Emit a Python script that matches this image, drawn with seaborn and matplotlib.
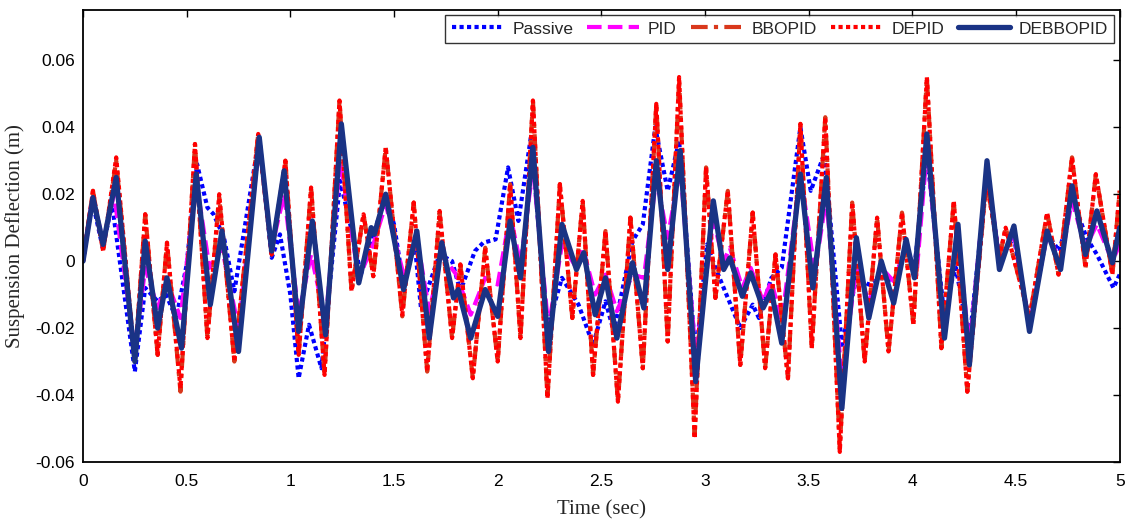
import matplotlib
matplotlib.use("Agg")
import matplotlib.pyplot as plt
import seaborn as sns
import pandas as pd

# ---------------- data ----------------
t_passive = [0, 0.045, 0.095, 0.14, 0.25, 0.30, 0.36, 0.40, 0.45, 0.50,
             0.55, 0.60, 0.63, 0.68, 0.73, 0.85, 0.91, 0.95, 1.0, 1.04,
             1.09, 1.15, 1.24, 1.30, 1.34, 1.40, 1.46, 1.50, 1.545, 1.60,
             1.63, 1.72, 1.78, 1.82, 1.89, 1.93, 1.99, 2.05, 2.10, 2.16,
             2.24, 2.31, 2.39, 2.46, 2.52, 2.56, 2.65, 2.70, 2.76, 2.82,
             2.875, 2.955, 3.01, 3.05, 3.17, 3.23, 3.26, 3.32, 3.37, 3.46,
             3.51, 3.575, 3.66, 3.73, 3.79, 3.85, 3.91, 3.97, 4.01, 4.07,
             4.15, 4.21, 4.275, 4.36, 4.42, 4.49, 4.565, 4.65, 4.71, 4.77,
             4.84, 4.89, 4.97, 5.0]
y_passive = [0, 0.018, 0.004, 0.017, -0.033, -0.008, -0.012, -0.010, -0.017, -0.001,
             0.029, 0.016, 0.014, 0.007, -0.009, 0.037, 0.001, 0.008, -0.010, -0.035,
             -0.019, -0.032, 0.024, 0.008, -0.004, 0.008, 0.019, 0.011, -0.007, 0.005,
             -0.014, 0.002, 0.0, -0.009, 0.003, 0.0055, 0.0065, 0.028, 0.012, 0.037,
             -0.020, -0.005, -0.013, -0.025, -0.012, -0.021, 0.006, 0.011, 0.040, 0.021,
             0.036, -0.029, 0.005, -0.002, -0.020, -0.013, -0.017, -0.005, -0.002, 0.040,
             0.021, 0.032, -0.025, -0.005, -0.007, -0.005, -0.006, 0.004, -0.002, 0.032,
             -0.014, -0.002, -0.024, 0.026, 0.001, 0.007, -0.019, 0.008, 0.003, 0.019,
             0.007, 0.002, -0.008, -0.004]

t_pid = [0, 0.045, 0.097, 0.15, 0.25, 0.30, 0.36, 0.405, 0.47, 0.546,
         0.61, 0.67, 0.75, 0.85, 0.91, 0.97, 1.04, 1.10, 1.17, 1.24,
         1.33, 1.40, 1.46, 1.55, 1.61, 1.67, 1.73, 1.80, 1.87, 1.94,
         2.0, 2.06, 2.11, 2.17, 2.245, 2.31, 2.38, 2.41, 2.47, 2.52,
         2.575, 2.65, 2.705, 2.765, 2.82, 2.88, 2.955, 3.04, 3.09, 3.12,
         3.18, 3.22, 3.28, 3.32, 3.37, 3.46, 3.53, 3.585, 3.66, 3.73,
         3.79, 3.85, 3.91, 3.97, 4.02, 4.07, 4.155, 4.22, 4.275, 4.36,
         4.42, 4.49, 4.565, 4.65, 4.715, 4.77, 4.835, 4.89, 4.965, 5.0]
y_pid = [0, 0.019, 0.006, 0.020, -0.027, -0.002, -0.014, -0.006, -0.017, 0.024,
         -0.002, 0.004, -0.020, 0.035, 0.004, 0.020, -0.016, 0.002, -0.018, 0.030,
         -0.005, 0.005, 0.017, -0.005, 0.007, -0.015, 0.002, -0.004, -0.016, -0.005,
         -0.007, 0.014, -0.001, 0.028, -0.020, 0.005, -0.002, 0.004, -0.010, -0.004,
         -0.015, -0.004, -0.005, 0.025, 0.007, 0.028, -0.028, 0.012, 0.0, 0.004,
         -0.008, -0.002, -0.012, -0.006, -0.018, 0.026, -0.003, 0.019, -0.035, -0.002,
         -0.012, -0.002, -0.006, 0.004, -0.004, 0.033, -0.020, 0.008, -0.026, 0.028,
         0.0, 0.008, -0.019, 0.008, 0.0, 0.018, 0.004, 0.011, 0.0, 0.005]

t_bbopid = [0, 0.048, 0.097, 0.16, 0.25, 0.30, 0.36, 0.405, 0.47, 0.54,
            0.60, 0.657, 0.73, 0.845, 0.91, 0.976, 1.04, 1.10, 1.165, 1.237,
            1.295, 1.353, 1.40, 1.46, 1.54, 1.595, 1.66, 1.72, 1.78, 1.82,
            1.88, 1.94, 2.0, 2.06, 2.11, 2.17, 2.24, 2.30, 2.36, 2.41,
            2.46, 2.52, 2.58, 2.64, 2.70, 2.765, 2.82, 2.875, 2.95, 3.005,
            3.05, 3.11, 3.17, 3.23, 3.29, 3.34, 3.40, 3.46, 3.515, 3.58,
            3.65, 3.71, 3.77, 3.83, 3.885, 3.95, 4.005, 4.07, 4.14, 4.20,
            4.265, 4.357, 4.42, 4.45, 4.565, 4.65, 4.705, 4.77, 4.835, 4.885,
            4.965, 5.0]
y_bbopid = [0, 0.021, 0.003, 0.030, -0.030, 0.014, -0.028, 0.0055, -0.039, 0.035,
            -0.023, 0.019, -0.030, 0.038, 0.002, 0.030, -0.028, 0.022, -0.034, 0.048,
            -0.009, 0.014, -0.0045, 0.034, -0.0165, 0.0175, -0.033, 0.0145, -0.023, -0.001,
            -0.035, 0.004, -0.030, 0.023, -0.023, 0.048, -0.041, 0.023, -0.017, 0.018,
            -0.034, 0.009, -0.042, 0.013, -0.032, 0.047, -0.024, 0.054, -0.052, 0.028,
            -0.011, 0.021, -0.031, 0.0145, -0.032, 0.002, -0.035, 0.041, -0.026, 0.043,
            -0.056, 0.0175, -0.030, 0.013, -0.027, 0.0145, -0.019, 0.055, -0.026, 0.018,
            -0.039, 0.024, 0.001, 0.010, -0.017, 0.0145, -0.004, 0.031, -0.002, 0.026,
            -0.004, 0.021]

t_depid = [0, 0.048, 0.097, 0.16, 0.25, 0.30, 0.36, 0.405, 0.47, 0.54,
           0.60, 0.657, 0.73, 0.845, 0.91, 0.976, 1.04, 1.10, 1.165, 1.237,
           1.295, 1.353, 1.40, 1.46, 1.54, 1.595, 1.66, 1.72, 1.78, 1.82,
           1.88, 1.94, 2.0, 2.06, 2.11, 2.17, 2.24, 2.30, 2.36, 2.41,
           2.46, 2.52, 2.58, 2.64, 2.70, 2.765, 2.82, 2.875, 2.95, 3.005,
           3.05, 3.11, 3.17, 3.23, 3.29, 3.34, 3.40, 3.46, 3.515, 3.58,
           3.65, 3.71, 3.77, 3.83, 3.885, 3.95, 4.005, 4.07, 4.14, 4.20,
           4.265, 4.357, 4.42, 4.45, 4.565, 4.65, 4.705, 4.77, 4.835, 4.885,
           4.965, 5.0]
y_depid = [0, 0.021, 0.003, 0.031, -0.030, 0.014, -0.028, 0.0055, -0.038, 0.035,
           -0.023, 0.020, -0.030, 0.038, 0.002, 0.030, -0.028, 0.022, -0.034, 0.048,
           -0.009, 0.014, -0.0045, 0.034, -0.016, 0.0175, -0.033, 0.015, -0.023, -0.001,
           -0.035, 0.004, -0.030, 0.023, -0.023, 0.048, -0.041, 0.023, -0.017, 0.018,
           -0.034, 0.009, -0.042, 0.013, -0.032, 0.047, -0.024, 0.055, -0.053, 0.028,
           -0.011, 0.021, -0.031, 0.0145, -0.032, 0.002, -0.035, 0.041, -0.026, 0.043,
           -0.057, 0.0175, -0.030, 0.013, -0.027, 0.0145, -0.019, 0.055, -0.026, 0.018,
           -0.039, 0.024, 0.001, 0.010, -0.017, 0.0145, -0.004, 0.031, -0.002, 0.026,
           -0.004, 0.021]

t_debbopid = [0, 0.048, 0.097, 0.16, 0.25, 0.30, 0.36, 0.405, 0.475, 0.546,
              0.614, 0.67, 0.75, 0.85, 0.91, 0.97, 1.04, 1.106, 1.17, 1.246,
              1.33, 1.39, 1.405, 1.46, 1.546, 1.61, 1.67, 1.73, 1.787, 1.81,
              1.87, 1.94, 2.0, 2.06, 2.11, 2.17, 2.245, 2.31, 2.38, 2.415,
              2.47, 2.52, 2.575, 2.65, 2.705, 2.765, 2.82, 2.88, 2.955, 3.04,
              3.09, 3.12, 3.18, 3.22, 3.28, 3.32, 3.37, 3.46, 3.52, 3.585,
              3.66, 3.73, 3.79, 3.85, 3.91, 3.97, 4.01, 4.07, 4.155, 4.22,
              4.275, 4.36, 4.42, 4.49, 4.565, 4.65, 4.715, 4.77, 4.835, 4.89,
              4.965, 5.0]
y_debbopid = [0, 0.019, 0.005, 0.025, -0.030, 0.006, -0.020, -0.005, -0.026, 0.026,
              -0.013, 0.009, -0.027, 0.037, 0.003, 0.027, -0.021, 0.012, -0.022, 0.041,
              -0.0065, 0.010, 0.008, 0.020, -0.0085, 0.009, -0.023, 0.0055, -0.011, -0.0085,
              -0.023, -0.0085, -0.0165, 0.012, -0.005, 0.034, -0.027, 0.011, -0.0025, 0.0025,
              -0.016, -0.005, -0.023, -0.0005, -0.014, 0.030, -0.0025, 0.033, -0.036, 0.018,
              -0.0025, 0.001, -0.0105, -0.0035, -0.014, -0.009, -0.0245, 0.026, -0.008, 0.025,
              -0.044, 0.007, -0.017, 0.0, -0.0125, 0.0065, -0.005, 0.038, -0.023, 0.011,
              -0.031, 0.030, -0.0025, 0.0105, -0.021, 0.009, -0.0025, 0.0225, 0.002, 0.015,
              -0.0005, 0.010]

series_names = ["Passive", "PID", "BBOPID", "DEPID", "DEBBOPID"]
x_ticks = [0, 0.5, 1, 1.5, 2, 2.5, 3, 3.5, 4, 4.5, 5]
x_tick_labels = ["0", "0.5", "1", "1.5", "2", "2.5", "3", "3.5", "4", "4.5", "5"]
y_ticks = [-0.06, -0.04, -0.02, 0, 0.02, 0.04, 0.06]
y_tick_labels = ["-0.06", "-0.04", "-0.02", "0", "0.02", "0.04", "0.06"]

# ---------------- figure ----------------
sns.set_style("white")
plt.rcParams["font.family"] = ["Liberation Sans", "DejaVu Sans"]

fig = plt.figure(figsize=(11.31, 5.31), dpi=100)
ax = fig.add_axes([0.0734, 0.130, 0.9166, 0.851])

data = {
    "Passive": (t_passive, y_passive),
    "PID": (t_pid, y_pid),
    "BBOPID": (t_bbopid, y_bbopid),
    "DEPID": (t_depid, y_depid),
    "DEBBOPID": (t_debbopid, y_debbopid),
}
styles = {
    "Passive": dict(color="#0000ff", linestyle=(0, (1, 0.8)), linewidth=3.0),
    "PID": dict(color="#ff00ff", linestyle=(0, (3.5, 1.5)), linewidth=3.0),
    "BBOPID": dict(color="#d9381c", linestyle=(0, (4, 1.5, 1, 1.5)), linewidth=3.0),
    "DEPID": dict(color="#ff0000", linestyle=(0, (1, 0.8)), linewidth=3.0),
    "DEBBOPID": dict(color="#1a3385", linestyle="-", linewidth=3.8),
}

for name in series_names:
    tt, yy = data[name]
    df = pd.DataFrame({"t": tt, "y": yy})
    sns.lineplot(data=df, x="t", y="y", ax=ax, sort=False, estimator=None,
                 label=name, solid_joinstyle="round", dash_joinstyle="round",
                 **styles[name])

ax.set_xlim(0, 5)
ax.set_ylim(-0.06, 0.075)
ax.set_xticks(x_ticks)
ax.set_xticklabels(x_tick_labels)
ax.set_yticks(y_ticks)
ax.set_yticklabels(y_tick_labels)
ax.tick_params(direction="in", length=5, width=1, top=True, right=True,
               labelsize=12.5, colors="black")
ax.tick_params(axis="x", pad=9)
ax.tick_params(axis="y", pad=6)
for s in ax.spines.values():
    s.set_visible(True)
    s.set_color("black")
    s.set_linewidth(1.3)

ax.set_xlabel("Time (sec)", family=["Liberation Serif", "DejaVu Serif"], fontsize=15, labelpad=8)
ax.set_ylabel("Suspension Deflection (m)", family=["Liberation Serif", "DejaVu Serif"], fontsize=15, labelpad=7)

leg = ax.legend(loc="upper right", ncol=5, frameon=True, fancybox=False,
                shadow=False, fontsize=12.5, handlelength=3.0, columnspacing=0.8,
                handletextpad=0.5, borderpad=0.35, borderaxespad=0.3)
leg.get_frame().set_edgecolor("black")
leg.get_frame().set_linewidth(1.0)

fig.savefig("out.png", dpi=100)
